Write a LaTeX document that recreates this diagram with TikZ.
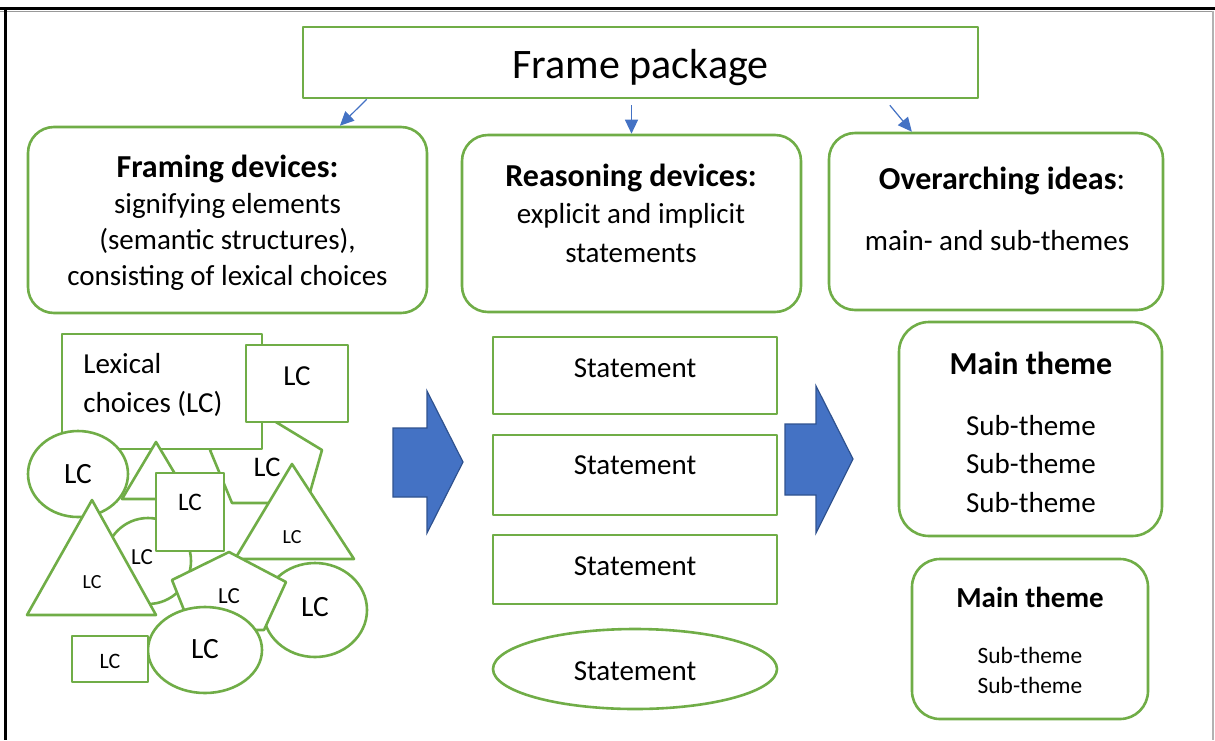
\documentclass[tikz,border=0pt]{standalone}
\usepackage{fontspec}
\setmainfont{Carlito}
\usetikzlibrary{arrows.meta,calc,positioning,shapes.geometric}
\definecolor{fgreen}{HTML}{70AD47}
\definecolor{fblue}{HTML}{4472C4}
\definecolor{fdblue}{HTML}{2F528F}
\tikzset{
  gbox/.style={draw=fgreen,line width=1.3pt,fill=white,inner sep=0pt},
  rbox/.style={gbox,rounded corners=13pt},
  lcshape/.style={draw=fgreen,line width=1.3pt,fill=white},
  body/.style={font=\fontsize{14.5}{18}\selectfont,inner sep=0pt},
  head/.style={font=\fontsize{16}{19}\selectfont\bfseries,inner sep=0pt},
  lc/.style={font=\fontsize{#1}{#1}\selectfont,inner sep=0pt},
  link/.style={fblue,line width=0.6pt,-{Triangle[length=7pt,width=6.5pt]}},
  bigarrow/.style={fill=fblue,draw=fdblue,line width=0.6pt,line join=miter},
}
\begin{document}
\begin{tikzpicture}[x=0.5pt,y=-0.5pt,line join=round]
  \useasboundingbox (0,0) rectangle (1215,740);
  % page frame
  \draw[line width=1.3pt] (0,8.5) -- (1215,8.5);
  \draw[black!40,line width=0.5pt] (0,11) -- (1213,11);
  \draw[line width=1.3pt] (5.5,8) -- (5.5,740);
  \draw[black!30,line width=0.6pt] (1213,11) -- (1213,740);

  % top row
  \node[gbox,minimum width=337.5pt,minimum height=35.5pt] (frame) at (640.5,62.5) {};
  \node[anchor=base,font=\fontsize{21}{24}\selectfont,inner sep=0pt] (frametxt) at (640.5,78) {Frame package};

  \node[rbox,minimum width=199.5pt,minimum height=93pt] (framing) at (227.5,220) {};
  \node[rbox,minimum width=169.5pt,minimum height=88.5pt] (reasoning) at (631.5,223.5) {};
  \node[rbox,minimum width=167pt,minimum height=88.5pt] (ideas) at (996,221.5) {};

  \node[head,anchor=base] (fd0) at (227.5,177) {Framing devices:};
  \node[body,anchor=base] (fd1) at (227.5,213) {signifying elements};
  \node[body,anchor=base] (fd2) at (227.5,249) {(semantic structures),};
  \node[body,anchor=base] (fd3) at (227.5,285) {consisting of lexical choices};

  \node[head,anchor=base] (rd0) at (631,186) {Reasoning devices:};
  \node[body,anchor=base] (rd1) at (631,223) {explicit and implicit};
  \node[body,anchor=base] (rd2) at (631,262) {statements};

  \node[head,anchor=base] (oi0) at (1002,189) {Overarching ideas\mdseries:};
  \node[body,anchor=base] (oi1) at (997,250) {main- and sub-themes};

  \coordinate (l0) at ($(frame.south west)!0.096!(frame.south east)$);
  \coordinate (r0) at ($(frame.south west)!0.868!(frame.south east)+(0,6)$);
  \draw[link] (l0) -- ($(framing.north west)!0.78!(framing.north east)$);
  \draw[link] ([yshift=-3pt]reasoning.north |- frame.south) -- (reasoning.north);
  \draw[link] (r0) -- ($(ideas.north west)!0.25!(ideas.north east)$);

  % lexical choices
  \draw[lcshape] (266,416) -- (322,450) -- (307,503) -- (232,503) -- (210,450) -- cycle;
  \node[lc=14.2] (lcA) at (267,467) {LC};
  \draw[lcshape] (62,334) rectangle (262,449);
  \node[body,anchor=base west] (lex1) at (83,373) {Lexical};
  \node[body,anchor=base west] (lex2) at (83,412) {choices (LC)};
  \draw[lcshape] (156,442) -- (190,499) -- (122,499) -- cycle;
  \draw[lcshape] (246,345) rectangle (348,422);
  \node[lc=14.5] (lcB) at (297,376) {LC};
  \draw[lcshape] (78,474) ellipse [x radius=25pt,y radius=21.5pt];
  \node[lc=14.7] (lcC) at (78,474) {LC};
  \draw[lcshape] (148,561) circle [radius=21.5pt];
  \node[lc=11.5] (lcD) at (142,557) {LC};
  \draw[lcshape] (92,500) -- (156,615) -- (27,615) -- cycle;
  \node[lc=10] (lcE) at (92,582) {LC};
  \draw[lcshape] (156,473) rectangle (224,551);
  \node[lc=12.6] (lcF) at (190,502) {LC};
  \draw[lcshape] (292,464) -- (354,559) -- (235,559) -- cycle;
  \node[lc=10] (lcG) at (292,537) {LC};
  \draw[lcshape] (315,610) ellipse [x radius=26pt,y radius=23.5pt];
  \node[lc=14.7] (lcH) at (315,607) {LC};
  \draw[lcshape] (229,552) -- (286,582) -- (264,630) -- (192,630) -- (172,580) -- cycle;
  \node[lc=11.5] (lcI) at (229,596) {LC};
  \draw[lcshape] (205,650) ellipse [x radius=28.5pt,y radius=21.5pt];
  \node[lc=14.7] (lcJ) at (205,649) {LC};
  \draw[lcshape] (72,636) rectangle (148,682);
  \node[lc=11] (lcK) at (110,661) {LC};

  % block arrows
  \draw[bigarrow] (393,428) -- (427,428) -- (427,391) -- (463,462) -- (427,533) -- (427,497) -- (393,497) -- cycle;
  \draw[bigarrow] (785,424) -- (816,424) -- (816,386) -- (853,459) -- (816,533) -- (816,495) -- (785,495) -- cycle;

  % statements
  \node[gbox,minimum width=142pt,minimum height=38.5pt] (st1) at (635,375.5) {};
  \node[gbox,minimum width=142pt,minimum height=40pt] (st2) at (635,475) {};
  \node[gbox,minimum width=142pt,minimum height=34.5pt] (st3) at (635,569.5) {};
  \node[gbox,ellipse,minimum width=142pt,minimum height=40pt] (st4) at (635,669) {};
  \foreach \n/\y in {1/377,2/474,3/575,4/680}
    \node[body,anchor=base] (st\n txt) at (635,\y) {Statement};

  % themes
  \node[gbox,rounded corners=15pt,minimum width=131.5pt,minimum height=107pt] (theme1) at (1030.5,429) {};
  \node[head,anchor=base] (mt1) at (1031,374) {Main theme};
  \foreach \n/\y in {1/435,2/473,3/512}
    \node[body,anchor=base] (sa\n) at (1031,\y) {Sub-theme};
  \node[gbox,rounded corners=14pt,minimum width=118pt,minimum height=80pt] (theme2) at (1030,639) {};
  \node[anchor=base,inner sep=0pt,font=\fontsize{14.5}{18}\selectfont\bfseries] (mt2) at (1030,607) {Main theme};
  \foreach \n/\y in {1/663,2/693}
    \node[lc=11.7,anchor=base] (sb\n) at (1030,\y) {Sub-theme};
\end{tikzpicture}
\end{document}
